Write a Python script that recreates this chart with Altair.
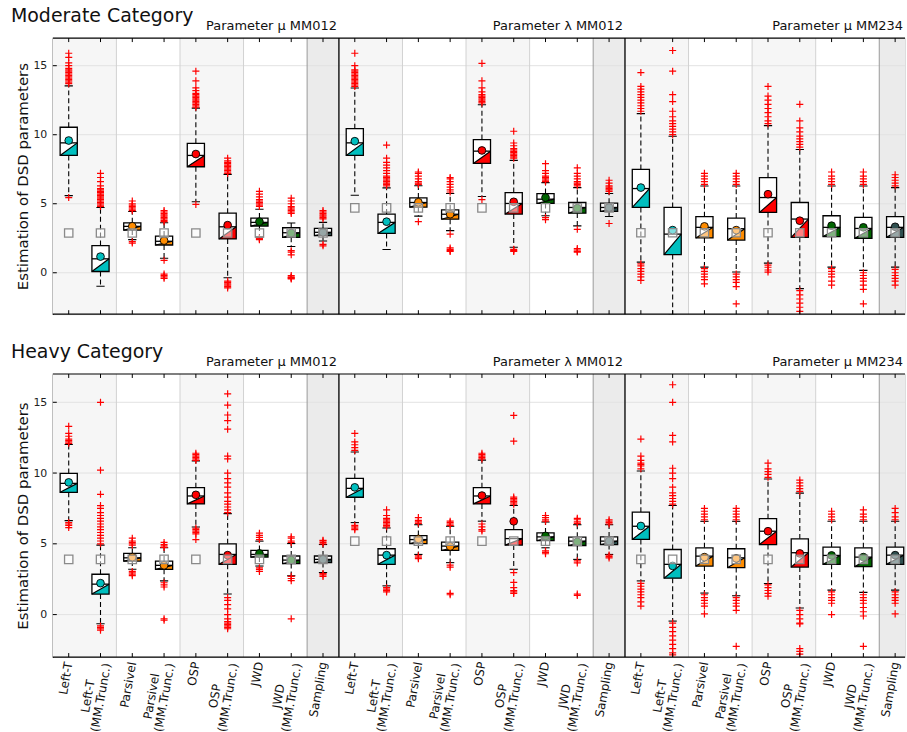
import altair as alt
import pandas as pd

# ---------------------------------------------------------------------------
# Categories, groups and colours
# ---------------------------------------------------------------------------
GROUPS = ["Parameter μ MM012", "Parameter λ MM012", "Parameter μ MM234"]
CATEGORIES = ["Left-T", "Left-T\n(MM.Trunc.)", "Parsivel", "Parsivel\n(MM.Trunc.)",
              "OSP", "OSP\n(MM.Trunc.)", "JWD", "JWD\n(MM.Trunc.)", "Sampling"]
FAMILY_COLORS = ["#00bfbf", "#00bfbf", "#ff8c00", "#ff8c00", "#ff0000", "#ff0000",
                 "#006400", "#006400", "#2f4f4f"]

# ---------------------------------------------------------------------------
# Moderate category: box statistics (27 boxes = 3 groups x 9 estimators)
# ---------------------------------------------------------------------------
MOD_Q1 = [8.50, 0.09, 3.09, 2.01, 7.68, 2.45, 3.38, 2.57, 2.69,
          8.50, 2.85, 4.75, 3.88, 7.92, 4.25, 5.02, 4.32, 4.44,
          4.73, 1.32, 2.52, 2.37, 4.37, 2.57, 2.62, 2.49, 2.57]
MOD_MED = [9.41, 1.01, 3.36, 2.28, 8.50, 3.33, 3.65, 2.90, 2.93,
           9.41, 3.65, 5.09, 4.24, 8.81, 5.02, 5.33, 4.73, 4.73,
           6.10, 2.80, 3.29, 3.19, 5.45, 3.89, 3.29, 3.21, 3.29]
MOD_Q3 = [10.54, 1.97, 3.62, 2.66, 9.38, 4.32, 3.96, 3.26, 3.21,
          10.44, 4.25, 5.42, 4.56, 9.65, 5.81, 5.74, 5.09, 5.04,
          7.49, 4.73, 4.06, 3.96, 6.89, 5.09, 4.13, 4.01, 4.06]
MOD_LO = [5.59, -0.98, 2.40, 1.05, 5.14, -0.36, 2.60, 1.90, 2.30,
          5.61, 1.68, 4.10, 3.05, 5.52, 1.85, 4.13, 3.40, 4.08,
          0.77, -3.05, 0.41, 0.05, 0.70, -1.15, 0.41, 0.17, 0.41]
MOD_HI = [13.54, 4.73, 4.44, 3.62, 11.93, 7.13, 4.60, 3.60, 3.65,
          13.38, 6.15, 6.30, 5.74, 12.17, 8.14, 6.53, 6.17, 5.74,
          11.53, 9.89, 6.29, 6.29, 10.66, 8.93, 6.29, 6.29, 6.17]
MOD_MEAN = [9.58, 1.17, 3.37, 2.33, 8.60, 3.45, 3.70, 2.88, 2.93,
            9.53, 3.70, 5.11, 4.24, 8.86, 5.14, 5.45, 4.68, 4.73,
            6.17, 3.09, 3.36, 3.09, 5.69, 3.77, 3.41, 3.29, 3.33]
MOD_TRUTH = [2.88, 4.70, 2.90]
MOD_OUT = [
    [5.45, 13.7, 13.8, 13.9, 14.0, 14.1, 14.2, 14.3, 14.4, 14.5, 14.6, 14.7, 14.8, 15.0, 15.2, 15.6, 15.9],
    [4.8, 4.9, 5.0, 5.1, 5.2, 5.3, 5.4, 5.5, 5.6, 5.7, 5.8, 5.9, 6.0, 6.1, 6.3, 6.6, 6.9, 7.2],
    [2.25, 2.15, 4.5, 4.6, 4.7, 4.8, 4.9, 5.0, 5.2],
    [0.9, -0.1, -0.2, -0.3, -0.4, 3.7, 3.8, 3.9, 4.0, 4.1, 4.2, 4.3, 4.4, 4.5],
    [4.95, 12.0, 12.1, 12.2, 12.3, 12.4, 12.5, 12.6, 12.7, 12.8, 12.9, 13.0, 13.2, 13.4, 13.9, 14.6],
    [-0.6, -0.7, -0.8, -0.9, -1.0, -1.1, 7.2, 7.3, 7.4, 7.5, 7.6, 7.7, 7.8, 7.9, 8.0, 8.1, 8.3],
    [2.5, 2.45, 2.4, 4.8, 4.9, 5.0, 5.1, 5.2, 5.3, 5.5, 5.7, 5.9],
    [1.6, 1.5, 1.3, -0.2, -0.3, -0.35, -0.4, -0.45, 4.3, 4.4, 4.5, 4.6, 4.7, 4.8, 5.0, 5.2, 5.4],
    [2.05, 1.95, 3.9, 4.0, 4.1, 4.2, 4.3, 4.4, 4.5],
    [13.5, 13.6, 13.7, 13.8, 13.9, 14.0, 14.1, 14.2, 14.3, 14.4, 14.5, 14.6, 14.7, 15.0, 15.9],
    [6.3, 6.4, 6.5, 6.6, 6.7, 6.8, 6.9, 7.0, 7.2, 7.4, 7.6, 7.8, 8.0, 8.3, 9.25],
    [3.7, 6.4, 6.5, 6.6, 6.8, 7.0, 7.2, 7.3],
    [2.8, 1.8, 1.7, 1.6, 1.55, 5.85, 6.0, 6.2, 6.4, 6.6, 6.8, 6.9],
    [5.3, 12.3, 12.4, 12.5, 12.6, 12.7, 12.8, 12.9, 13.1, 13.4, 13.9, 15.17],
    [1.7, 1.6, 1.55, 8.3, 8.4, 8.5, 8.6, 8.7, 8.8, 8.9, 9.0, 9.2, 9.4, 10.25],
    [4.0, 3.85, 6.6, 6.7, 6.8, 6.9, 7.0, 7.2, 7.4, 7.9],
    [3.15, 1.75, 1.65, 1.55, 1.5, 6.3, 6.4, 6.5, 6.6, 6.8, 7.0, 7.2, 7.6],
    [3.57, 5.9, 6.0, 6.1, 6.2, 6.3, 6.5, 6.7],
    [0.65, 0.5, 0.3, 0.1, -0.1, -0.3, -0.55, 11.7, 11.9, 12.1, 12.3, 12.5, 12.7, 12.9, 13.1, 13.3, 13.5, 14.5],
    [10.0, 10.2, 10.4, 10.6, 10.8, 11.0, 11.3, 11.7, 12.4, 12.9, 14.6, 16.1],
    [0.3, 0.1, -0.1, -0.3, -0.5, -0.8, 6.4, 6.6, 6.8, 7.0, 7.2],
    [-0.1, -0.3, -0.5, -0.7, -1.0, -2.25, 6.4, 6.6, 6.8, 7.0, 7.2],
    [0.55, 0.4, 0.2, 0.05, 10.8, 11.0, 11.3, 11.6, 11.9, 12.2, 12.5, 12.8, 13.5],
    [-1.3, -1.6, -1.9, -2.2, -2.5, -2.8, 9.1, 9.3, 9.5, 9.7, 9.9, 10.2, 10.5, 11.0, 12.2],
    [0.3, 0.1, -0.1, -0.3, -0.6, -0.9, 6.4, 6.6, 6.8, 7.0, 7.3],
    [0.0, -0.2, -0.4, -0.6, -0.9, -1.2, -2.25, 6.4, 6.6, 6.8, 7.0, 7.3],
    [0.25, 0.0, -0.2, -0.4, -0.6, -0.9, 6.3, 6.5, 6.7, 6.9, 7.1],
]

# ---------------------------------------------------------------------------
# Heavy category
# ---------------------------------------------------------------------------
HVY_Q1 = [8.64, 1.45, 3.78, 3.20, 7.82, 3.55, 4.06, 3.60, 3.67,
          8.29, 3.55, 5.02, 4.53, 7.82, 4.91, 5.23, 4.88, 4.95,
          5.31, 2.57, 3.43, 3.32, 4.95, 3.36, 3.55, 3.39, 3.55]
HVY_MED = [9.27, 2.15, 4.01, 3.48, 8.38, 4.25, 4.25, 3.85, 3.90,
           8.92, 4.20, 5.30, 4.84, 8.38, 5.37, 5.49, 5.19, 5.19,
           6.24, 3.55, 4.13, 4.01, 5.89, 4.37, 4.18, 4.06, 4.20]
HVY_Q3 = [9.97, 2.85, 4.32, 3.78, 8.97, 5.00, 4.53, 4.14, 4.14,
          9.62, 4.65, 5.58, 5.12, 8.97, 6.00, 5.77, 5.47, 5.49,
          7.24, 4.60, 4.72, 4.65, 6.78, 5.35, 4.77, 4.72, 4.77]
HVY_LO = [6.64, -0.65, 3.20, 2.38, 6.19, 1.45, 3.43, 2.74, 2.97,
          6.50, 2.03, 4.25, 3.67, 6.60, 3.20, 4.72, 3.90, 4.25,
          2.38, -0.46, 1.52, 1.33, 2.20, 0.47, 1.73, 1.57, 1.73]
HVY_HI = [12.02, 4.91, 4.72, 4.72, 10.86, 7.13, 5.19, 5.02, 4.95,
          11.49, 6.12, 6.35, 6.24, 10.91, 7.71, 6.54, 6.35, 6.35,
          10.14, 7.71, 6.59, 6.59, 9.58, 8.58, 6.59, 6.59, 6.59]
HVY_MEAN = [9.34, 2.22, 4.06, 3.48, 8.46, 4.20, 4.32, 3.85, 3.90,
            8.99, 4.20, 5.35, 4.81, 8.41, 6.59, 5.56, 5.14, 5.19,
            6.26, 3.44, 4.06, 3.97, 5.89, 4.32, 4.18, 4.06, 4.20]
HVY_TRUTH = [3.90, 5.19, 3.90]
HVY_OUT = [
    [6.5, 6.4, 6.3, 6.15, 12.1, 12.2, 12.3, 12.4, 12.6, 12.8, 13.3],
    [-0.8, -0.9, -1.0, -1.1, 5.0, 5.2, 5.4, 5.6, 5.8, 6.0, 6.2, 6.4, 6.6, 6.8, 7.0, 7.2, 7.5, 7.7, 8.5, 10.2, 15.0],
    [3.05, 2.95, 2.85, 2.75, 4.9, 5.0, 5.1, 5.2, 5.4],
    [2.25, 2.1, 1.95, -0.3, -0.4, 4.75, 4.85, 4.95, 5.1],
    [6.1, 6.0, 5.9, 5.8, 5.7, 5.3, 10.9, 11.0, 11.1, 11.2, 11.3, 11.4],
    [1.2, 1.0, 0.7, 0.4, 0.0, -0.3, -0.5, -0.6, -0.7, -0.8, -0.9, -1.0, 7.2, 7.4, 7.6, 7.8, 8.0,
     8.3, 8.6, 9.0, 9.3, 9.6, 10.0, 11.0, 11.2, 13.1, 13.7, 14.1, 14.8, 15.6],
    [3.3, 3.2, 3.05, 5.3, 5.45, 5.6, 5.75],
    [2.7, 2.55, 2.4, -0.3, 5.1, 5.2, 5.4, 5.5],
    [2.9, 2.8, 2.7, 5.0, 5.1, 5.2, 5.25],
    [6.3, 6.2, 6.1, 6.0, 11.6, 11.8, 12.0, 12.2, 12.8],
    [1.9, 1.8, 1.7, 1.6, 6.2, 6.3, 6.4, 6.5, 6.6, 6.7, 6.8, 7.0, 7.4],
    [4.15, 4.05, 3.95, 6.45, 6.55, 6.65, 6.85],
    [3.5, 3.35, 1.5, 1.4, 6.3, 6.4, 6.5, 6.6],
    [6.4, 6.2, 6.0, 5.9, 11.0, 11.1, 11.2, 11.3, 11.4],
    [2.97, 2.27, 1.9, 1.7, 1.6, 1.5, 7.8, 7.9, 8.0, 8.1, 8.2, 8.3, 12.25, 14.07],
    [4.5, 4.4, 4.3, 6.6, 6.7, 6.85, 7.0],
    [3.8, 3.65, 1.45, 1.35, 6.45, 6.55, 6.7, 6.8],
    [4.2, 4.1, 4.0, 6.4, 6.5, 6.6, 6.7],
    [2.2, 2.0, 1.8, 1.6, 1.4, 1.2, 0.9, 0.6, 10.3, 10.5, 10.6, 10.7, 10.9, 11.2, 12.4],
    [-0.6, -0.9, -1.2, -1.5, -1.8, -2.1, -2.4, -2.7, -2.85, 7.8, 8.0, 8.2, 8.4, 8.6, 9.0, 9.6,
     10.0, 10.34, 12.2, 12.66, 15.0, 16.24],
    [1.4, 1.2, 1.0, 0.8, 0.6, 0.05, 6.7, 6.9, 7.1, 7.3, 7.5],
    [1.2, 1.0, 0.8, 0.6, 0.3, -2.24, 6.7, 6.9, 7.1, 7.3, 7.5],
    [2.1, 1.9, 1.7, 1.5, 1.3, 9.7, 9.9, 10.1, 10.3, 10.7],
    [0.3, 0.0, -0.3, -0.6, -0.65, -2.4, -2.6, -2.8, 8.7, 8.9, 9.1, 9.3, 9.5],
    [1.6, 1.4, 1.2, 1.0, 0.8, 0.0, 6.7, 6.9, 7.1, 7.3],
    [1.4, 1.2, 1.0, 0.8, 0.5, 0.2, -0.1, -2.24, 6.7, 6.9, 7.1, 7.4],
    [1.6, 1.4, 1.2, 1.0, 0.8, 0.05, 6.7, 6.9, 7.2, 7.5],
]

Y_TICKS = [0, 5, 10, 15]

# ---------------------------------------------------------------------------
# Layout / style constants
# ---------------------------------------------------------------------------
PLOT_W = 855
XMAX = 26.81          # the third group runs past the right edge
Y_DOMAIN = [-3, 17]
BOX_HALF = 0.27
CAP_HALF = 0.13
NCAT = len(CATEGORIES)
BAND_SPANS = [(0, 2), (2, 4), (4, 6), (6, 8), (8, 9)]
BAND_FILLS = ["#f6f6f6", "#ffffff", "#f6f6f6", "#ffffff", "#ebebeb"]
SEP_STYLE = [(2, "#d2d2d2", 1.0), (4, "#d2d2d2", 1.0), (6, "#d2d2d2", 1.0),
             (8, "#9a9a9a", 1.0), (9, "#2a2a2a", 1.6)]
PLUS = "M-1,0L1,0M0,-1L0,1"
FONT = "DejaVu Sans"
LABEL_SIZE = 12
LABEL_HALF_LINE2 = 36   # half the length of "(MM.Trunc.)" at LABEL_SIZE


def box_table(q1, med, q3, lo, hi, mean, truth):
    rows = []
    for i in range(len(q1)):
        g, c = divmod(i, NCAT)
        x = i + 0.5
        rows.append({"i": i, "x": x, "xl": x - BOX_HALF, "xr": x + BOX_HALF,
                     "cl": x - CAP_HALF, "cr": x + CAP_HALF,
                     "q1": q1[i], "med": med[i], "q3": q3[i], "lo": lo[i], "hi": hi[i],
                     "mean": mean[i], "truth": truth[g], "color": FAMILY_COLORS[c]})
    return pd.DataFrame(rows)


def triangle_table(box):
    # lower-right triangle between the first quartile and the median
    rows = []
    for r in box.itertuples():
        rows.append({"i": r.i, "px": r.xl, "ya": r.q1, "yb": r.q1, "color": r.color})
        rows.append({"i": r.i, "px": r.xr, "ya": r.q1, "yb": r.med, "color": r.color})
    return pd.DataFrame(rows)


def outlier_table(outliers):
    return pd.DataFrame([{"x": i + 0.5, "v": v}
                         for i, vals in enumerate(outliers) for v in vals])


def panel(title, box, outliers, height, with_labels):
    xs = alt.Scale(domain=[0, XMAX], nice=False, zero=False)
    ys = alt.Scale(domain=Y_DOMAIN, nice=False, zero=False)
    yaxis = alt.Axis(values=Y_TICKS, title="Estimation of DSD parameters", grid=False,
                     ticks=False, domain=True, domainColor="black", domainWidth=1.2,
                     labelFontSize=11, labelColor="#222", labelPadding=6,
                     titleFontSize=15, titleFontWeight="normal", titleColor="#111",
                     titlePadding=2, labelFont=FONT, titleFont=FONT)

    def X(f):
        return alt.X(f, type="quantitative", scale=xs, axis=None)

    def Y(f):
        return alt.Y(f, type="quantitative", scale=ys, axis=yaxis, stack=None)

    bands = pd.DataFrame([{"x1": g * NCAT + a, "x2": min(g * NCAT + b, XMAX), "fill": f}
                          for g in range(len(GROUPS))
                          for (a, b), f in zip(BAND_SPANS, BAND_FILLS)])
    seps = pd.DataFrame([{"sx": g * NCAT + p, "c": c, "w": w}
                         for g in range(len(GROUPS)) for p, c, w in SEP_STYLE
                         if g * NCAT + p < XMAX])
    grid = pd.DataFrame({"v": Y_TICKS})
    tri = triangle_table(box)
    out = outlier_table(outliers)
    one = pd.DataFrame({"k": [0]})

    layers = [
        alt.Chart(bands).mark_rect().encode(
            x=X("x1"), x2="x2", y=alt.value(0), y2=alt.value(height),
            color=alt.Color("fill:N", scale=None)),
        alt.Chart(grid).mark_rule(color="#e2e2e2", strokeWidth=1).encode(
            y=Y("v"), x=alt.value(0), x2=alt.value(PLOT_W)),
        alt.Chart(seps).mark_rule().encode(
            x=X("sx"), y=alt.value(0), y2=alt.value(height),
            color=alt.Color("c:N", scale=None),
            strokeWidth=alt.StrokeWidth("w:Q", scale=None)),
        # whiskers
        alt.Chart(box).mark_rule(color="black", strokeWidth=1.1, strokeDash=[5, 3], clip=True).encode(
            x=X("x"), y=Y("q3"), y2="hi"),
        alt.Chart(box).mark_rule(color="black", strokeWidth=1.1, strokeDash=[5, 3], clip=True).encode(
            x=X("x"), y=Y("q1"), y2="lo"),
        alt.Chart(box).mark_rule(color="black", strokeWidth=1.1, clip=True).encode(
            x=X("cl"), x2="cr", y=Y("hi")),
        alt.Chart(box).mark_rule(color="black", strokeWidth=1.1, clip=True).encode(
            x=X("cl"), x2="cr", y=Y("lo")),
        # outliers
        alt.Chart(out).mark_point(shape=PLUS, filled=False, color="red", size=50,
                                  strokeWidth=1.2, opacity=1, clip=True).encode(
            x=X("x"), y=Y("v")),
        # boxes
        alt.Chart(box).mark_rect(fill="white", strokeWidth=0).encode(
            x=X("xl"), x2="xr", y=Y("q1"), y2="q3"),
        alt.Chart(tri).mark_area(interpolate="linear", opacity=1).encode(
            x=X("px"), y=Y("ya"), y2="yb", detail="i:N",
            color=alt.Color("color:N", scale=None)),
        alt.Chart(box).mark_rect(fill="white", fillOpacity=0, stroke="black", strokeWidth=1.3).encode(
            x=X("xl"), x2="xr", y=Y("q1"), y2="q3"),
        alt.Chart(box).mark_rule(color="black", strokeWidth=1.2).encode(
            x=X("xl"), x2="xr", y=Y("q1"), y2="med"),
        alt.Chart(box).mark_rule(color="black", strokeWidth=1.3).encode(
            x=X("xl"), x2="xr", y=Y("med")),
        # means and reference values
        alt.Chart(box).mark_point(shape="circle", filled=True, size=60, stroke="black",
                                  strokeWidth=0.9, opacity=1).encode(
            x=X("x"), y=Y("mean"), fill=alt.Fill("color:N", scale=None)),
        alt.Chart(box).mark_point(shape="square", filled=True, size=70, fill="white",
                                  fillOpacity=0.5, stroke="#8a8a8a", strokeWidth=1.3,
                                  opacity=1).encode(
            x=X("x"), y=Y("truth")),
        # inward ticks and frame
        alt.Chart(box).mark_rule(color="black", strokeWidth=1).encode(
            x=X("x"), y=alt.value(0), y2=alt.value(4)),
        alt.Chart(box).mark_rule(color="black", strokeWidth=1).encode(
            x=X("x"), y=alt.value(height), y2=alt.value(height - 4)),
        alt.Chart(grid).mark_rule(color="black", strokeWidth=1).encode(
            y=Y("v"), x=alt.value(0), x2=alt.value(4)),
        alt.Chart(one).mark_rule(color="black", strokeWidth=1.2).encode(
            y=alt.value(0), x=alt.value(0), x2=alt.value(PLOT_W)),
        alt.Chart(one).mark_rule(color="black", strokeWidth=1.2).encode(
            y=alt.value(height), x=alt.value(0), x2=alt.value(PLOT_W)),
        # group and panel titles
        alt.Chart(pd.DataFrame({"gx": [min((g + 1) * NCAT, XMAX) for g in range(len(GROUPS))],
                                "t": GROUPS})).mark_text(
            align="right", baseline="alphabetic", fontSize=13, dx=-2, color="#111", font=FONT).encode(
            x=X("gx"), y=alt.value(-8), text="t:N"),
        alt.Chart(pd.DataFrame({"t": [title]})).mark_text(
            align="left", baseline="alphabetic", fontSize=19, color="#111", font=FONT).encode(
            x=alt.value(-42), y=alt.value(-16), text="t:N"),
    ]

    if with_labels:
        labs = []
        for i in range(len(GROUPS) * NCAT):
            parts = CATEGORIES[i % NCAT].split("\n")
            labs.append({"x": i + 0.5, "l1": parts[0], "l2": parts[1] if len(parts) > 1 else ""})
        labs = pd.DataFrame(labs)
        common = dict(angle=280, baseline="middle", fontSize=LABEL_SIZE, color="#111", font=FONT)
        layers += [
            alt.Chart(labs).transform_filter("datum.l2 == ''").mark_text(
                align="right", **common).encode(
                x=X("x"), y=alt.value(height + 5), text="l1:N"),
            alt.Chart(labs).transform_filter("datum.l2 != ''").mark_text(
                align="right", dy=6.5, **common).encode(
                x=X("x"), y=alt.value(height + 5), text="l2:N"),
            alt.Chart(labs).transform_filter("datum.l2 != ''").mark_text(
                align="center", dx=-LABEL_HALF_LINE2, dy=-6.5, **common).encode(
                x=X("x"), y=alt.value(height + 5), text="l1:N"),
        ]

    return alt.layer(*layers).properties(width=PLOT_W, height=height)


moderate = panel("Moderate Category",
                 box_table(MOD_Q1, MOD_MED, MOD_Q3, MOD_LO, MOD_HI, MOD_MEAN, MOD_TRUTH),
                 MOD_OUT, 277, False)
heavy = panel("Heavy Category",
              box_table(HVY_Q1, HVY_MED, HVY_Q3, HVY_LO, HVY_HI, HVY_MEAN, HVY_TRUTH),
              HVY_OUT, 284, True)

chart = (
    alt.vconcat(moderate, heavy, spacing=26)
    .properties(padding={"left": 10, "top": 5, "right": 0, "bottom": 0})
    .configure_view(stroke=None)
    .configure(font=FONT)
)

chart.save("out.html", embed_options={"renderer": "svg", "actions": False})
